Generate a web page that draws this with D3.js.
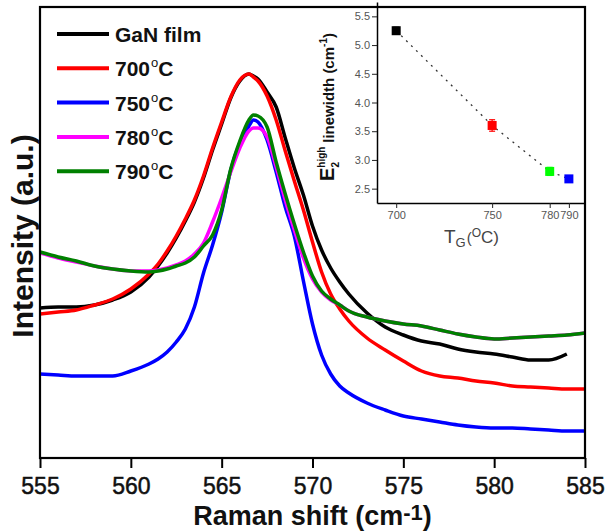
<!DOCTYPE html>
<html><head><meta charset="utf-8">
<script src="https://cdn.jsdelivr.net/npm/d3@7/dist/d3.min.js"></script>
<style>
body{margin:0;background:#fff}
svg{display:block}
text{font-family:Arial,"Liberation Sans",sans-serif}
</style>
</head><body>
<svg id="chart" width="605" height="531"></svg>
<script>
// ---------- DATA ----------
const ramanShift = [555,556,557,558,559,560,561,561.5,562,562.5,563,563.5,564,564.5,565,565.5,566,566.5,566.75,567,567.5,568,568.5,569,569.5,570,570.5,571,571.5,572,573,574,575,576,577,578,579,580,581,582,583,584,585];
const ganFilm = [150,151,151,153,158,166,181,192,205,220,237,256,280,308,334,360,377,384,382,379,366,351,320,290,263,232,208,190,176,164,145,131,123,117,114,109,106,104,101,98,98,104,null];
const t700 = [144,146,148,153,159,169,184,194,207,222,239,258,282,310,336,361,378,384,381,377,362,338,307,277,248,216,186,164,149,137,120,108,97,87,82,80,77,75,72,71,70,69,69];
const t750 = [84,83,82,82,82,87,94,99,106,116,129,151,185,213,246,288,315,332,338,336,318,286,251,222,177,134,103,84,72,65,55,48,42,39,36,33,31,30,30,29,28,27,27];
const t780 = [205,200,196,192,189,187,187,188,190,193,197,204,215,236,260,286,310,327,330,330,321,291,258,228,200,179,166,158,153,147,141,137,134,132,128,124,121,119,120,121,122,123,125];
const t790 = [206,201,197,192,189,187,186,187,189,192,195,201,212,223,248,289,317,338,343,342,331,296,264,234,206,182,167,159,153,147,141,137,134,132,128,124,121,119,120,121,122,123,125];
const seriesLabels = ["GaN film","700","750","780","790"];
const seriesColors = ["#000000","#ff0000","#0000ff","#ff00ff","#008000"];
const xTicksMajor = [555,560,565,570,575,580,585];

// inset data
const growthTemp = [700,750,780,790];
const linewidth = [5.25,3.60,2.80,2.67];
const linewidthErr = [0.06,0.10,0.07,0.05];
const insetColors = ["#000000","#ff0000","#00ff00","#0000ff"];
const insetYTicks = [2.5,3.0,3.5,4.0,4.5,5.0,5.5];

// ---------- CHART ----------
const svg = d3.select("#chart");
const M = {left:40, right:585, top:7, bottom:458};
const x = d3.scaleLinear().domain([555,585]).range([M.left,M.right]);
const y = d3.scaleLinear().domain([0,451]).range([M.bottom,M.top]);

const seriesData = [ganFilm,t700,t750,t780,t790];
svg.append("clipPath").attr("id","clipMain").append("rect")
  .attr("x",M.left).attr("y",M.top).attr("width",M.right-M.left).attr("height",M.bottom-M.top);

const line = d3.line()
  .defined(d => d[1] != null)
  .x(d => x(d[0])).y(d => y(d[1]))
  .curve(d3.curveMonotoneX);

seriesData.forEach((vals,k) => {
  svg.append("path")
    .datum(ramanShift.map((v,i) => [v, vals[i]]))
    .attr("d", line)
    .attr("fill","none")
    .attr("stroke", seriesColors[k])
    .attr("stroke-width", 3.5)
    .attr("stroke-linejoin","round")
    .attr("clip-path","url(#clipMain)");
});

// frame
svg.append("rect").attr("x",M.left).attr("y",M.top)
  .attr("width",M.right-M.left).attr("height",M.bottom-M.top)
  .attr("fill","none").attr("stroke","#000").attr("stroke-width",2.2);

// x axis
const gx = svg.append("g").attr("transform",`translate(0,${M.bottom})`);
gx.call(d3.axisBottom(x).tickValues(d3.range(555,586,1)).tickSize(7).tickSizeOuter(0).tickFormat(""));
gx.call(d3.axisBottom(x).tickValues(xTicksMajor).tickSize(10).tickSizeOuter(0).tickPadding(4).tickFormat(d3.format("d")));
gx.selectAll(".domain").remove();
gx.selectAll(".tick line").attr("stroke","#000").attr("stroke-width",2);
gx.selectAll(".tick text").attr("font-size",23).attr("fill","#111")
  .attr("stroke","#111").attr("stroke-width",0.5)
  .attr("font-family",'Arial,"Liberation Sans",sans-serif').attr("dy",null).attr("y",36);

// axis titles
const xt = svg.append("text").attr("x",(M.left+M.right)/2).attr("y",525)
  .attr("text-anchor","middle").attr("font-size",27).attr("font-weight","bold").attr("fill","#111");
xt.append("tspan").text("Raman shift (cm");
xt.append("tspan").attr("dy",-5).attr("font-size",22).text("-1");
xt.append("tspan").attr("dy",5).text(")");

svg.append("text").attr("transform","translate(33,236) rotate(-90)")
  .attr("text-anchor","middle").attr("font-size",30).attr("font-weight","bold").attr("fill","#111")
  .text("Intensity (a.u.)");

// legend
const legendY0 = 34, legendDy = 34.3;
seriesLabels.forEach((lab,k) => {
  const ly = legendY0 + k*legendDy;
  svg.append("line").attr("x1",57).attr("x2",109).attr("y1",ly).attr("y2",ly)
    .attr("stroke",seriesColors[k]).attr("stroke-width",4);
  const t = svg.append("text").attr("x",115).attr("y",ly+8)
    .attr("font-size",21).attr("font-weight","bold").attr("fill","#111");
  if (k === 0) { t.text(lab); }
  else {
    t.append("tspan").text(lab);
    t.append("tspan").attr("dx",1).attr("dy",-9).attr("font-size",13).attr("font-weight","normal").text("o");
    t.append("tspan").attr("dy",9).text("C");
  }
});

// ---------- INSET ----------
const ix = d3.scaleLinear().domain([690,798.4]).range([377,585]);
const iy = d3.scaleLinear().domain([2.25,5.75]).range([203,2]);

const gy = svg.append("g").attr("transform","translate(377,0)");
gy.call(d3.axisLeft(iy).tickValues(d3.range(2.75,5.5,0.5)).tickSize(3).tickSizeOuter(0).tickFormat(""));
gy.call(d3.axisLeft(iy).tickValues(insetYTicks).tickSize(5).tickSizeOuter(0).tickPadding(2).tickFormat(d3.format(".1f")));
gy.selectAll(".domain").attr("stroke","#000").attr("stroke-width",1.5);
gy.selectAll(".tick line").attr("stroke","#222").attr("stroke-width",1);
gy.selectAll(".tick text").attr("font-size",11).attr("fill","#555")
  .attr("font-family",'Arial,"Liberation Sans",sans-serif');

const gix = svg.append("g").attr("transform","translate(0,203)");
gix.call(d3.axisBottom(ix).tickValues(growthTemp).tickSize(5).tickSizeOuter(0).tickPadding(3).tickFormat(d3.format("d")));
gix.selectAll(".domain").attr("stroke","#000").attr("stroke-width",1.5);
gix.selectAll(".tick line").attr("stroke","#222").attr("stroke-width",1);
gix.selectAll(".tick text").attr("font-size",11).attr("fill","#555")
  .attr("font-family",'Arial,"Liberation Sans",sans-serif');

// dotted trend line
svg.append("path")
  .datum(growthTemp.map((t,i) => [t, linewidth[i]]))
  .attr("d", d3.line().x(d => ix(d[0])).y(d => iy(d[1])))
  .attr("fill","none").attr("stroke","#333").attr("stroke-width",1.3)
  .attr("stroke-dasharray","2,5");

// error bars + markers
growthTemp.forEach((t,i) => {
  const cx = ix(t), cy = iy(linewidth[i]);
  const y1 = iy(linewidth[i]-linewidthErr[i]), y2 = iy(linewidth[i]+linewidthErr[i]);
  svg.append("line").attr("x1",cx).attr("x2",cx).attr("y1",y1).attr("y2",y2)
    .attr("stroke",insetColors[i]).attr("stroke-width",1.2);
  [y1,y2].forEach(yy => svg.append("line").attr("x1",cx-3).attr("x2",cx+3).attr("y1",yy).attr("y2",yy)
    .attr("stroke",insetColors[i]).attr("stroke-width",1.2));
  svg.append("rect").attr("x",cx-4.5).attr("y",cy-4.5).attr("width",9).attr("height",9)
    .attr("fill",insetColors[i]);
});

// inset axis titles
const ixt = svg.append("text").attr("x",444).attr("y",243).attr("fill","#444");
ixt.append("tspan").attr("font-size",19).text("T");
ixt.append("tspan").attr("font-size",13).attr("dy",4).text("G");
ixt.append("tspan").attr("font-size",15).attr("dy",-4).attr("dx",1).text("(");
ixt.append("tspan").attr("font-size",12).attr("dy",-6).text("O");
ixt.append("tspan").attr("font-size",17).attr("dy",6).text("C)");

const iyt = svg.append("text").attr("transform","translate(334,107) rotate(-90)")
  .attr("text-anchor","middle").attr("font-weight","bold").attr("fill","#111");
iyt.append("tspan").attr("font-size",20).text("E");
iyt.append("tspan").attr("font-size",10).attr("dy",-9).text("high");
iyt.append("tspan").attr("font-size",10).attr("dx",-21).attr("dy",14).text("2");
iyt.append("tspan").attr("font-size",15).attr("dx",15).attr("dy",-5).text(" linewidth (cm");
iyt.append("tspan").attr("font-size",10).attr("dy",-7).text("-1");
iyt.append("tspan").attr("font-size",15).attr("dy",7).text(")");
</script>
</body></html>
